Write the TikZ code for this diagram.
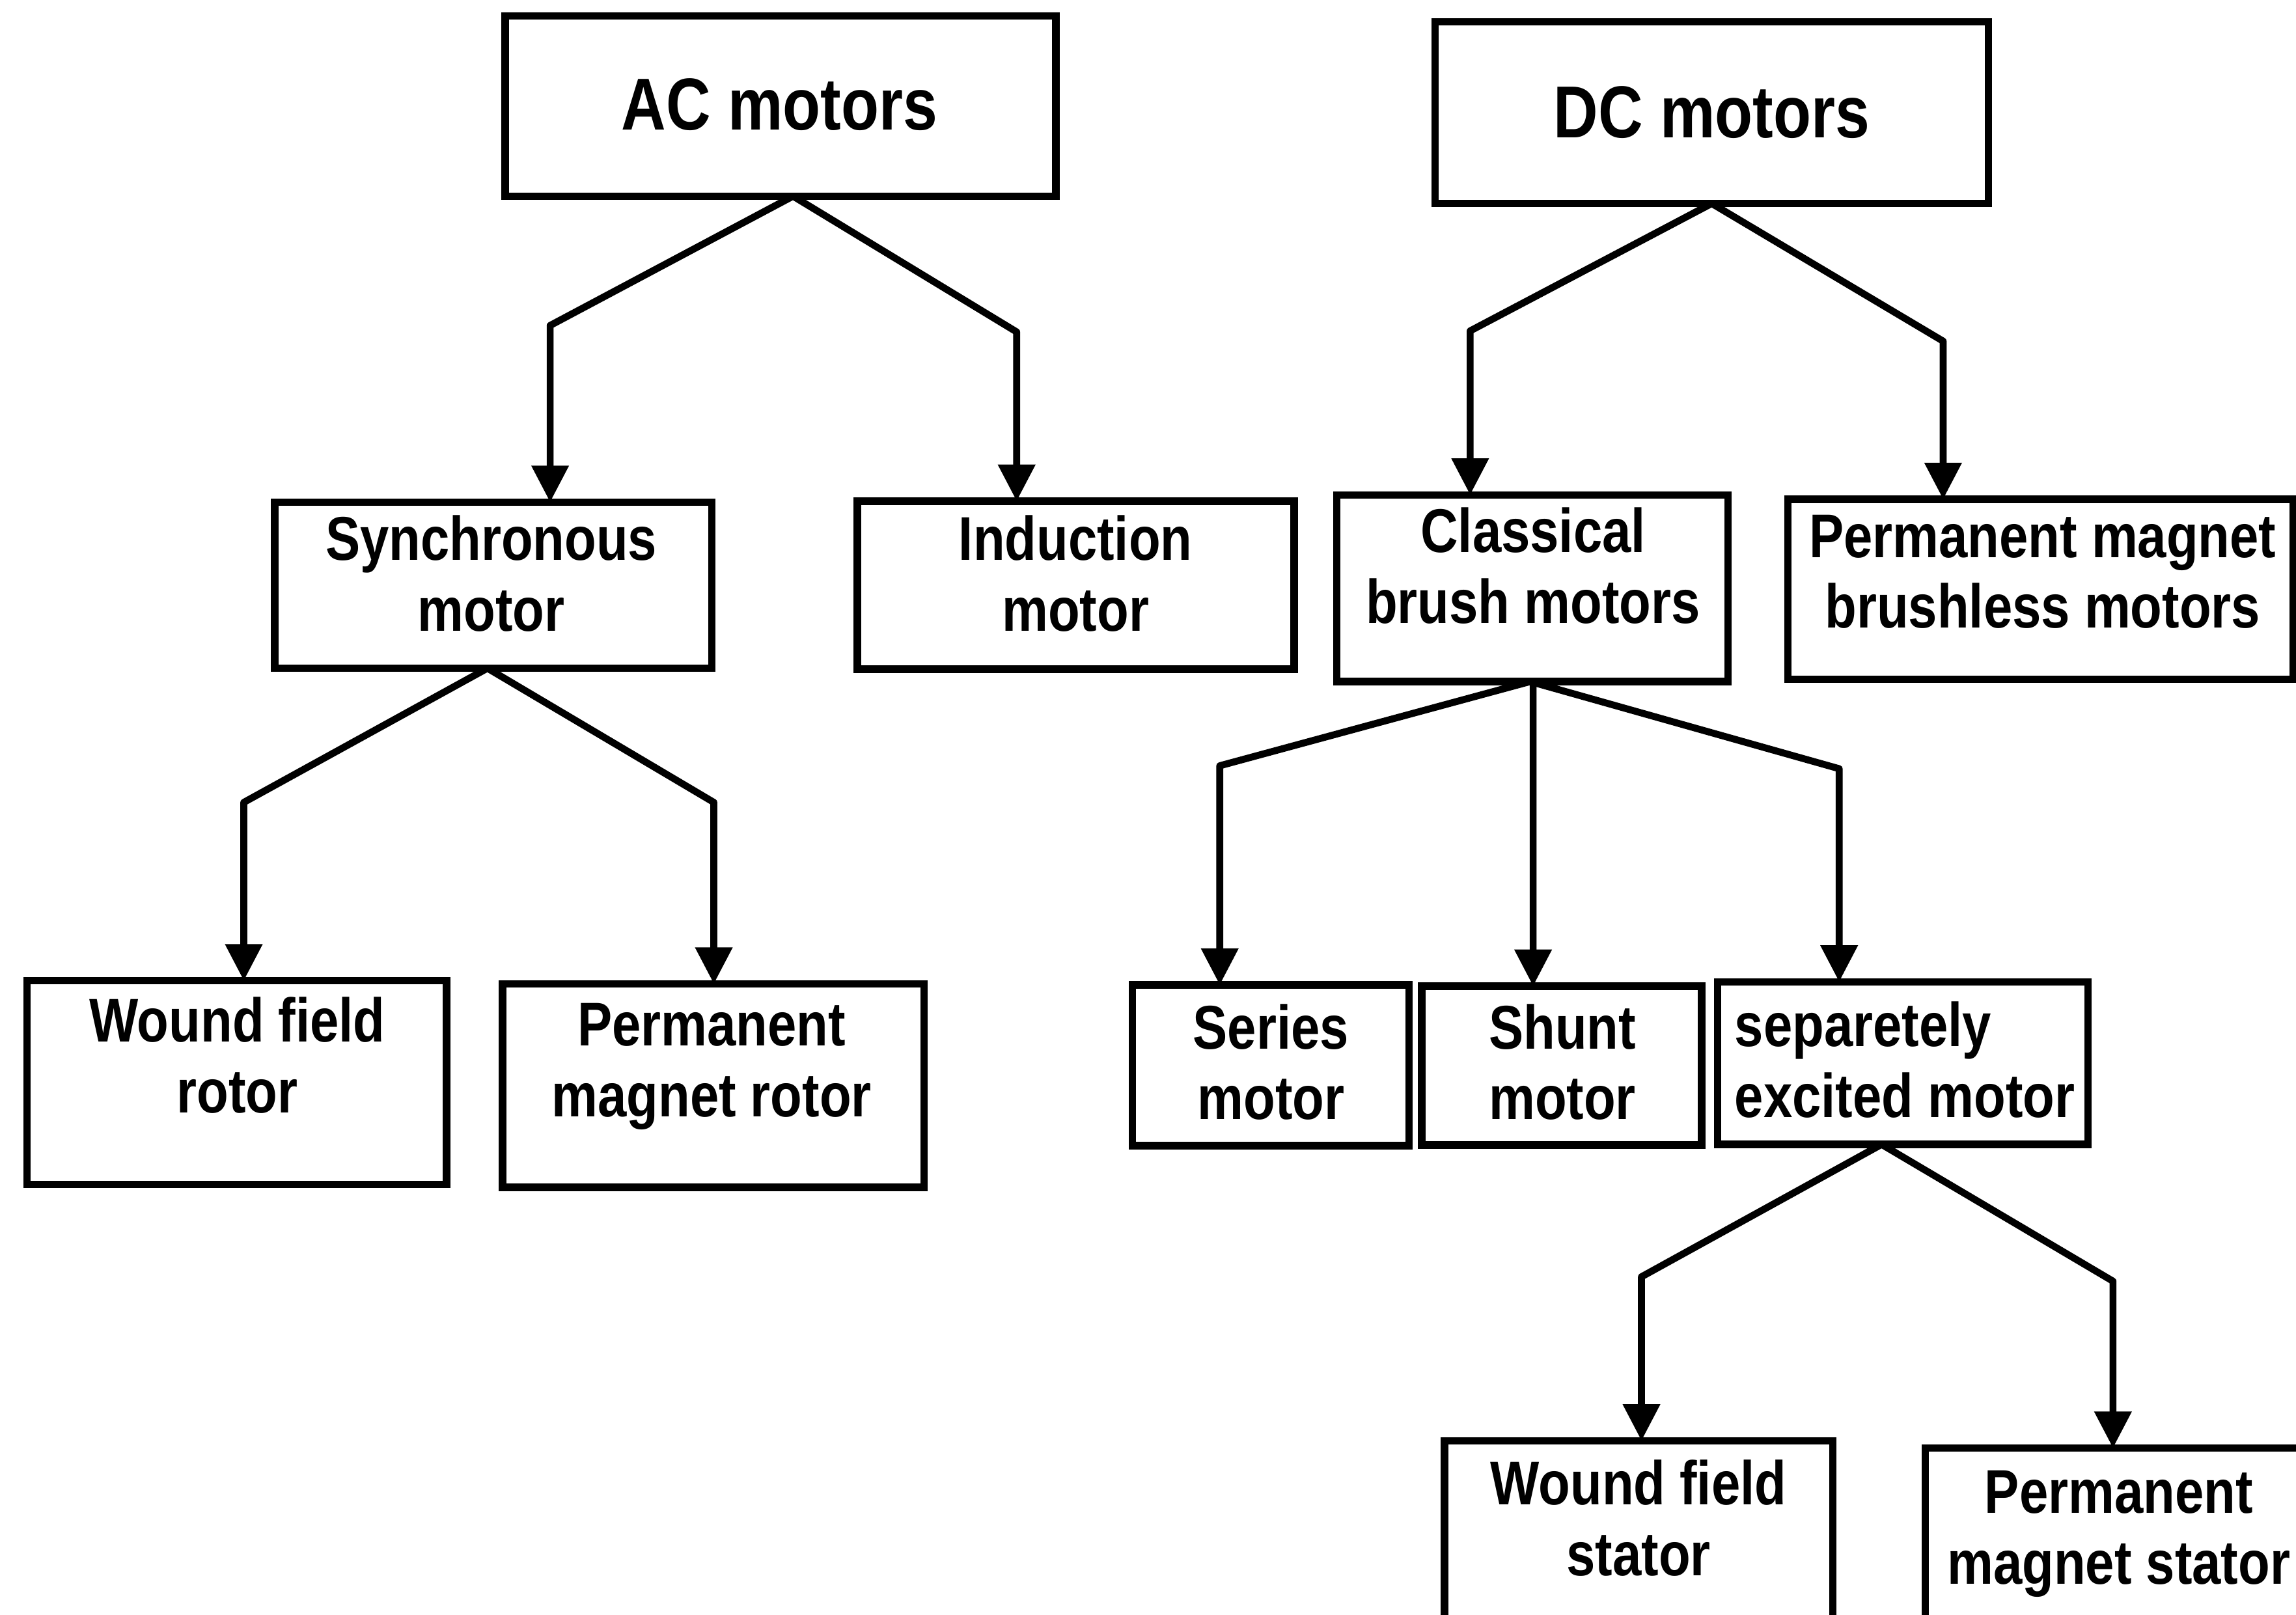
\documentclass[tikz,border=0pt]{standalone}
\usepackage{fontspec}
\newfontfamily\labfont{Liberation Sans}[FakeStretch=0.84]
\usetikzlibrary{arrows.meta,calc}
\begin{document}
\begin{tikzpicture}[x=0.1mm,y=-0.1mm,
  box/.style={draw,line width=1.45pt,inner sep=0pt,outer sep=0pt},
  big/.style={font=\labfont\bfseries\fontsize{14.3}{17}\selectfont,inner sep=0pt,anchor=base},
  lbl/.style={font=\labfont\bfseries\fontsize{12}{13.75}\selectfont,inner sep=0pt,anchor=base,align=center},
  lbll/.style={lbl,align=left,anchor=base west},
  conn/.style={line width=1.35pt,line join=round,-{Triangle[length=2.5mm,width=2.45mm]}}]

\useasboundingbox (0,0) rectangle (1568,1103);
\clip (0,0) rectangle (1568,1103);

% boxes
\node[box,minimum width=37.6mm,minimum height=12.3mm]  (ac)  at (533,72.5)    {};
\node[box,minimum width=37.8mm,minimum height=12.4mm]  (dc)  at (1169,77)     {};
\node[box,minimum width=29.86mm,minimum height=11.34mm] (syn) at (336.9,399.7) {};
\node[box,minimum width=29.84mm,minimum height=11.47mm] (ind) at (734.6,399.65) {};
\node[box,minimum width=26.7mm,minimum height=12.75mm] (cls) at (1046.5,401.75) {};
\node[box,minimum width=34.5mm,minimum height=12.3mm]  (pmb) at (1393.5,402.5) {};
\node[box,minimum width=28.65mm,minimum height=13.92mm] (wfr) at (161.75,739.4) {};
\node[box,minimum width=28.77mm,minimum height=13.9mm] (pmr) at (487.15,741.5) {};
\node[box,minimum width=18.9mm,minimum height=10.97mm] (ser) at (867.8,727.55) {};
\node[box,minimum width=19.1mm,minimum height=10.85mm] (shu) at (1066.5,727.75) {};
\node[box,minimum width=25.3mm,minimum height=11.1mm] (sep) at (1299.5,726.1) {};
\node[box,minimum width=26.54mm,minimum height=15.6mm] (wfs) at (1119.1,1062) {};
\node[box,minimum width=26.02mm,minimum height=15.1mm] (pms) at (1444.9,1064.5) {};

% labels (placed by the baseline of their last line)
\node[big] (t-ac)  at (532.3,88.9)  {AC motors};
\node[big] (t-dc)  at (1169,94.1)   {DC motors};
\node[lbl] (t-syn) at (335.5,431)   {Synchronous\\motor};
\node[lbl] (t-ind) at (734.5,431)   {Induction\\motor};
\node[lbl] (t-cls) at (1047,425.5)  {Classical\\brush motors};
\node[lbl] (t-pmb) at (1395,429)    {Permanent magnet\\brushless motors};
\node[lbl] (t-wfr) at (162,760)     {Wound field\\rotor};
\node[lbl] (t-pmr) at (486,762.5)   {Permanent\\magnet rotor};
\node[lbl] (t-ser) at (868,764.6)   {Series\\motor};
\node[lbl] (t-shu) at (1067,764.6)  {Shunt\\motor};
\node[lbll] (t-sep) at (1184,763)   {separetely\\excited motor};
\node[lbl] (t-wfs) at (1119,1075.9) {Wound field\\stator};
\node[lbl] (t-pms) at (1447,1081.7) {Permanent\\magnet stator};

% bends of the connectors
\coordinate (k-ac-syn) at (375.7,222.3);
\coordinate (k-ac-ind) at (694.3,226.7);
\coordinate (k-dc-cls) at (1004,226);
\coordinate (k-dc-pmb) at (1327,233);
\coordinate (k-syn-wfr) at (166.5,548);
\coordinate (k-syn-pmr) at (487.5,548);
\coordinate (k-cls-ser) at (833,523);
\coordinate (k-cls-sep) at (1256,525);
\coordinate (k-sep-wfs) at (1121,872);
\coordinate (k-sep-pms) at (1443,875);

% connectors
\draw[conn] ($(ac.south)+(8.6,0)$) -- (k-ac-syn) -- (k-ac-syn |- syn.north);
\draw[conn] ($(ac.south)+(8.6,0)$) -- (k-ac-ind) -- (k-ac-ind |- ind.north);
\draw[conn] (dc.south) -- (k-dc-cls) -- (k-dc-cls |- cls.north);
\draw[conn] (dc.south) -- (k-dc-pmb) -- (k-dc-pmb |- pmb.north);
\draw[conn] ($(syn.south)+(-4,0)$) -- (k-syn-wfr) -- (k-syn-wfr |- wfr.north);
\draw[conn] ($(syn.south)+(-4,0)$) -- (k-syn-pmr) -- (k-syn-pmr |- pmr.north);
\draw[conn] ($(cls.south)+(-1.5,0)$) -- (k-cls-ser) -- (k-cls-ser |- ser.north);
\draw[conn] ($(cls.south)+(0.5,0)$) -- ($(shu.north)+(-19.5,0)$);
\draw[conn] ($(cls.south)+(-1.5,0)$) -- (k-cls-sep) -- (k-cls-sep |- sep.north);
\draw[conn] ($(sep.south)+(-14.5,0)$) -- (k-sep-wfs) -- (k-sep-wfs |- wfs.north);
\draw[conn] ($(sep.south)+(-14.5,0)$) -- (k-sep-pms) -- (k-sep-pms |- pms.north);
\end{tikzpicture}
\end{document}
